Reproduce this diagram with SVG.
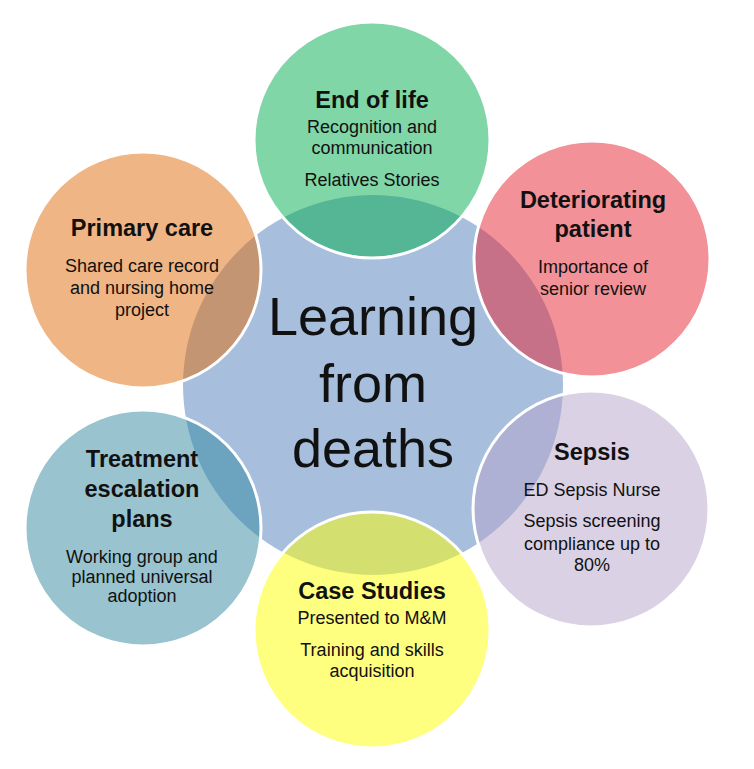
<svg xmlns="http://www.w3.org/2000/svg" width="754" height="769" viewBox="0 0 754 769">
<style>
.bg{fill:#ffffff}
.hub{fill:#a7bfdd}
.pet{fill-opacity:0.5;stroke:#ffffff;stroke-width:3}
text{font-family:"Liberation Sans",Arial,sans-serif;fill:#111111;text-anchor:middle}
.t{font-weight:bold;font-size:23.5px}
.b{font-size:18px}
.c{font-size:54px}
</style>
<rect class="bg" x="0" y="0" width="754" height="769"/>
<g id="center">
<circle class="hub" cx="373" cy="385" r="190"/>
<text class="c" x="373" y="335">Learning</text>
<text class="c" x="373" y="402">from</text>
<text class="c" x="373" y="467">deaths</text>
</g>
<g id="end-of-life">
<circle class="pet" cx="372" cy="140" r="118" fill="#01ad4d"/>
<text class="t" x="372" y="108">End of life</text>
<text class="b" x="372" y="133">Recognition and</text>
<text class="b" x="372" y="154">communication</text>
<text class="b" x="372" y="186">Relatives Stories</text>
</g>
<g id="deteriorating-patient">
<circle class="pet" cx="592" cy="259" r="118" fill="#e52331"/>
<text class="t" x="593" y="208">Deteriorating</text>
<text class="t" x="593" y="237">patient</text>
<text class="b" x="593" y="273">Importance of</text>
<text class="b" x="593" y="295">senior review</text>
</g>
<g id="sepsis">
<circle class="pet" cx="591" cy="509" r="118" fill="#b5a3cb"/>
<text class="t" x="592" y="460">Sepsis</text>
<text class="b" x="592" y="496">ED Sepsis Nurse</text>
<text class="b" x="592" y="527">Sepsis screening</text>
<text class="b" x="592" y="550">compliance up to</text>
<text class="b" x="592" y="571">80%</text>
</g>
<g id="case-studies">
<circle class="pet" cx="372" cy="630" r="118" fill="#ffff00"/>
<text class="t" x="372" y="599">Case Studies</text>
<text class="b" x="372" y="624">Presented to M&amp;M</text>
<text class="b" x="372" y="656">Training and skills</text>
<text class="b" x="372" y="677">acquisition</text>
</g>
<g id="treatment-escalation-plans">
<circle class="pet" cx="143" cy="528" r="118" fill="#31879f"/>
<text class="t" x="142" y="467">Treatment</text>
<text class="t" x="142" y="497">escalation</text>
<text class="t" x="142" y="527">plans</text>
<text class="b" x="142" y="563">Working group and</text>
<text class="b" x="142" y="583">planned universal</text>
<text class="b" x="142" y="602">adoption</text>
</g>
<g id="primary-care">
<circle class="pet" cx="143" cy="270" r="118" fill="#e16b09"/>
<text class="t" x="142" y="236">Primary care</text>
<text class="b" x="142" y="272">Shared care record</text>
<text class="b" x="142" y="294">and nursing home</text>
<text class="b" x="142" y="316">project</text>
</g>
</svg>
